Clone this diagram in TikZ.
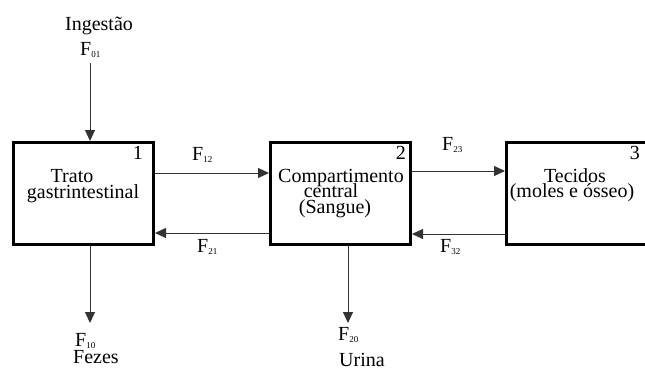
\documentclass[tikz,border=0pt]{standalone}
\usepackage{fontspec}
\setmainfont{Liberation Serif}
\usetikzlibrary{arrows.meta}
\newcommand{\Fsub}[1]{F\raisebox{-2pt}{\fontsize{9}{9}\selectfont #1}}
\begin{document}
\begin{tikzpicture}[x=1pt,y=-1pt,
  box/.style={draw, line width=3pt, minimum width=140pt, minimum height=102pt, inner sep=0pt},
  arr/.style={draw=black!80, line width=1pt, -{Triangle[length=11pt,width=10pt]}},
  txt/.style={font=\fontsize{20}{16}\selectfont, inner sep=0pt, anchor=base},
  lbl/.style={font=\fontsize{20}{16}\selectfont, inner sep=0pt, anchor=base west},
  num/.style={font=\fontsize{20}{16}\selectfont, inner sep=0pt, anchor=base east}]
\useasboundingbox (0,0) rectangle (645,369);
\clip (0,0) rectangle (645,369);

% boxes
\node[box] (b1) at (83.5,193.5) {};
\node[box] (b2) at (340.5,193.5) {};
\node[box, minimum width=160pt] (b3) at (586.5,193.5) {};

% numbers
\node[num] (n1) at (143,159) {1};
\node[num] (n2) at (406,159) {2};
\node[num] (n3) at (640,159) {3};

% box texts
\node[txt] (t1a) at (72,182) {Trato};
\node[txt] (t1b) at (83,198) {gastrintestinal};
\node[txt] (t2a) at (341,182) {Compartimento};
\node[txt] (t2b) at (331,197) {central};
\node[txt] (t2c) at (335,213) {(Sangue)};
\node[txt] (t3a) at (575,182) {Tecidos};
\node[txt] (t3b) at (572,197) {(moles e ósseo)};

% external labels
\node[txt] (ing) at (99,31) {Ingestão};
\node[lbl] (f01) at (80,56) {\Fsub{01}};
\node[lbl] (f12) at (192,160) {\Fsub{12}};
\node[lbl] (f21) at (197,252) {\Fsub{21}};
\node[lbl] (f23) at (442,150) {\Fsub{23}};
\node[lbl] (f32) at (440,252) {\Fsub{32}};
\node[lbl] (f10) at (75,346) {\Fsub{10}};
\node[lbl] (fez) at (73,363) {Fezes};
\node[lbl] (f20) at (338,340) {\Fsub{20}};
\node[lbl] (uri) at (339,366) {Urina};

% connectors
\coordinate (in) at (90,63);
\coordinate (e10) at (90,323);
\coordinate (e20) at (348,323);
\draw[arr] (in) -- (in |- b1.north);
\draw[arr] (b1.east |- 0,173) -- (b2.west |- 0,173);
\draw[arr] (b2.west |- 0,233) -- (b1.east |- 0,233);
\draw[arr] (b2.east |- 0,171) -- (b3.west |- 0,171);
\draw[arr] (b3.west |- 0,234) -- (b2.east |- 0,234);
\draw[arr] (b1.south -| e10) -- (e10);
\draw[arr] (b2.south -| e20) -- (e20);
\end{tikzpicture}
\end{document}
